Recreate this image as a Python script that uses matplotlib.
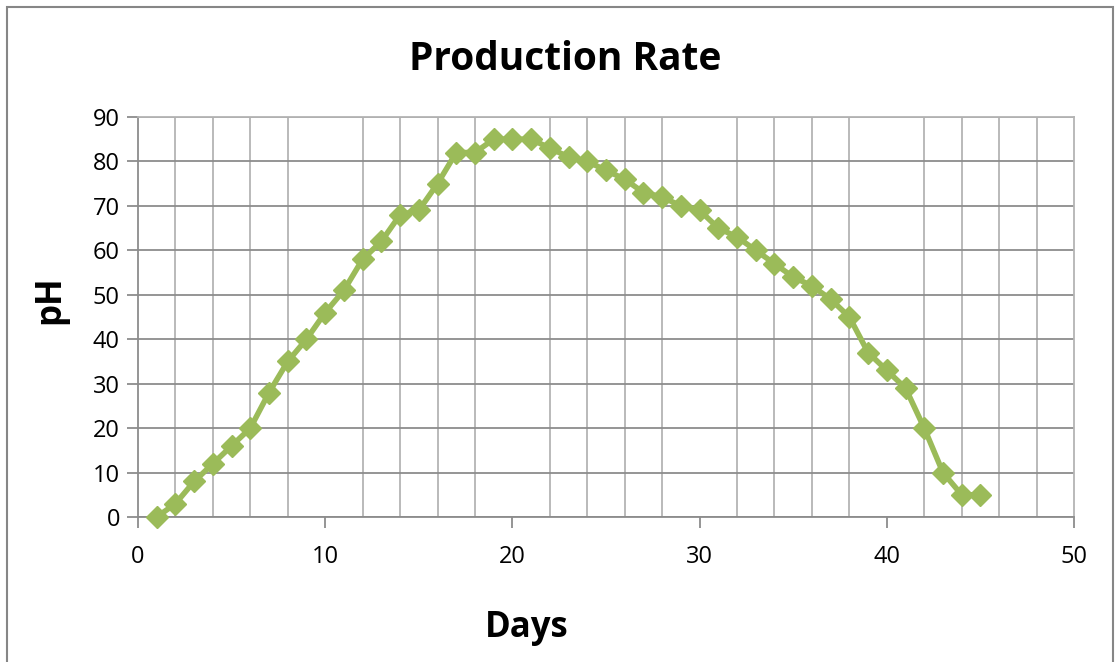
import matplotlib.pyplot as plt
import matplotlib.patches as mpatches
import numpy as np

# Production rate readings per day
days = list(range(1, 46))
ph_values = [0, 3, 8, 12, 16, 20, 28, 35, 40, 46,
             51, 58, 62, 68, 69, 75, 82, 82, 85, 85,
             85, 83, 81, 80, 78, 76, 73, 72, 70, 69,
             65, 63, 60, 57, 54, 52, 49, 45, 37, 33,
             29, 20, 10, 5, 5]

x_ticks = [0, 10, 20, 30, 40, 50]
y_ticks = [0, 10, 20, 30, 40, 50, 60, 70, 80, 90]

plt.rcParams['font.family'] = ['Open Sans', 'DejaVu Sans']

W, H = 1117, 662
fig = plt.figure(figsize=(W / 100, H / 100), dpi=100)
ax = fig.add_axes([138 / W, 1 - 517 / H, 936 / W, 400 / H])

# outer chart border (bottom edge runs off the picture)
fig.patches.append(mpatches.Rectangle((7 / W, -0.05), 1106 / W, (1 - 7 / H) + 0.05,
                                      transform=fig.transFigure, fill=False,
                                      edgecolor='#868686', linewidth=1.5))

ax.plot(days, ph_values, color='#9bbb59', linewidth=4, marker='D',
        markersize=11, markeredgecolor='#9bbb59', zorder=3, clip_on=False)

ax.set_xlim(0, 50)
ax.set_ylim(0, 90)
ax.set_xticks(x_ticks)
ax.set_yticks(y_ticks)
ax.set_xticks(np.arange(0, 51, 2), minor=True)
ax.grid(which='major', axis='y', color='#8c8c8c', linewidth=1.3)
ax.grid(which='minor', axis='x', color='#b4b4b4', linewidth=1.3)
ax.set_axisbelow(True)

for side in ['left', 'bottom']:
    ax.spines[side].set_color('#8c8c8c')
    ax.spines[side].set_linewidth(1.3)
for side in ['top', 'right']:
    ax.spines[side].set_color('#b4b4b4')
    ax.spines[side].set_linewidth(1.3)

ax.tick_params(axis='both', which='major', direction='out', length=8, width=1.3,
               color='#8c8c8c', labelsize=17, pad=5)
ax.tick_params(axis='x', which='minor', length=0)
ax.tick_params(axis='x', which='major', pad=12)

# titles placed on the figure, like the spreadsheet chart
fig.text(565 / W, 1 - 60 / H, 'Production Rate', fontsize=28, fontweight='bold',
         ha='center', va='center')
fig.text(527 / W, 1 - 628 / H, 'Days', fontsize=25, fontweight='bold',
         ha='center', va='center')
fig.text(50 / W, 1 - 300 / H, 'pH', fontsize=25, fontweight='bold',
         ha='center', va='center', rotation=90)

fig.savefig('out.png', dpi=100)
